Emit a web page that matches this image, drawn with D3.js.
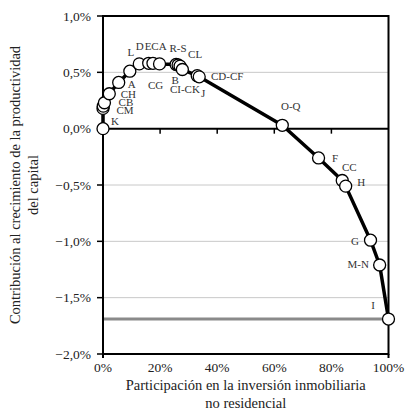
<!DOCTYPE html>
<html><head><meta charset="utf-8">
<script src="https://cdn.jsdelivr.net/npm/d3@7"></script>
<style>body{margin:0;background:#fff}svg{display:block}text{font-family:"Liberation Serif","Times New Roman",serif}</style>
</head><body><svg id="c" width="407" height="415"></svg>
<script>
// ---- data ----
const sectors = ["K","CM","","CB","CH","A","L","D","E","CA","CG","R-S","CL","B","CI-CK","J","CD-CF","O-Q","F","CC","H","G","M-N","I"];
const shareNonRes = [0.0,0.0,0.1,0.5,2.2,5.5,9.4,12.7,16.0,17.5,19.8,25.6,26.3,27.0,27.8,33.0,33.7,62.8,75.5,83.8,85.0,93.7,96.9,100.0];
const contribution = [0.00,0.18,0.20,0.23,0.31,0.41,0.51,0.575,0.58,0.58,0.575,0.57,0.565,0.555,0.525,0.47,0.46,0.03,-0.26,-0.46,-0.51,-0.99,-1.21,-1.69];
const referenceLevel = -1.69;
const xTicks = [0,20,40,60,80,100];
const yTicks = [1.0,0.5,0.0,-0.5,-1.0,-1.5,-2.0];
const xTitle = ["Participación en la inversión inmobiliaria","no residencial"];
const yTitle = ["Contribución al crecimiento de la productividad","del capital"];

// ---- label placement (layout only) ----
const labelOffset = {
  "K":[12,-4],"CM":[22,5.5],"CB":[21.5,3],"CH":[19,4],"A":[13,6],"L":[1,-15],
  "D":[0.5,-14],"E":[-0.5,-13],"CA":[6,-13.5],"CG":[-4,25],"R-S":[2,-12],"CL":[17,-7],
  "B":[-5,17.5],"CI-CK":[2.5,23],"J":[6,21.5],"CD-CF":[28,3],"O-Q":[8.5,-15.5],
  "F":[16.5,4],"CC":[7,-9],"H":[15.5,0],"G":[-15.5,4.5],"M-N":[-21.5,3.5],"I":[-15.5,-10.5]
};

const pts = sectors.map((s,i)=>({s, x:shareNonRes[i], y:contribution[i]}));
const svg = d3.select("#c");
const x = d3.scaleLinear().domain([0,100]).range([103,388.5]);
const y = d3.scaleLinear().domain([-2,1]).range([354,16]);
const fmt = v => (v<0?"\u2212":"") + Math.abs(v).toFixed(1).replace(".",",") + "%";

// gridlines
svg.append("g").selectAll("line").data(yTicks.filter(v=>v!==0 && v!==1 && v!==-2)).join("line")
  .attr("x1",x(0)).attr("x2",x(100)).attr("y1",d=>y(d)).attr("y2",d=>y(d))
  .attr("stroke","#c8c8c8").attr("stroke-width",1);
// reference line
svg.append("line").attr("x1",x(0)).attr("x2",x(100)).attr("y1",y(referenceLevel)).attr("y2",y(referenceLevel))
  .attr("stroke","#8a8a8a").attr("stroke-width",3);
// zero line
svg.append("line").attr("x1",x(0)).attr("x2",x(100)).attr("y1",y(0)).attr("y2",y(0))
  .attr("stroke","#000").attr("stroke-width",2);
// zero-line ticks
svg.append("g").selectAll("line").data(xTicks.slice(1,-1)).join("line")
  .attr("x1",d=>x(d)).attr("x2",d=>x(d)).attr("y1",y(0)).attr("y2",y(0)+5)
  .attr("stroke","#000").attr("stroke-width",1.5);
// frame
svg.append("rect").attr("x",x(0)).attr("y",y(1)).attr("width",x(100)-x(0)).attr("height",y(-2)-y(1))
  .attr("fill","none").attr("stroke","#000").attr("stroke-width",2);
svg.append("line").attr("x1",x(0)).attr("x2",x(0)).attr("y1",y(-2)).attr("y2",y(-2)+4).attr("stroke","#000").attr("stroke-width",2);
svg.append("line").attr("x1",x(100)).attr("x2",x(100)).attr("y1",y(-2)).attr("y2",y(-2)+4).attr("stroke","#000").attr("stroke-width",2);

// y axis ticks & labels
const yA = svg.append("g");
yA.selectAll("line").data(yTicks).join("line")
  .attr("x1",x(0)-6).attr("x2",x(0)).attr("y1",d=>y(d)).attr("y2",d=>y(d)).attr("stroke","#000").attr("stroke-width",1.5);
yA.selectAll("text").data(yTicks).join("text")
  .attr("x",x(0)-12).attr("y",d=>y(d)+4.5).attr("text-anchor","end").attr("font-size",13.5).attr("fill","#222").text(fmt);
// x labels
svg.append("g").selectAll("text").data(xTicks).join("text")
  .attr("x",d=>x(d)).attr("y",372).attr("text-anchor","middle").attr("font-size",13.5).attr("fill","#222").text(d=>d+"%");

// data line
svg.append("path").datum(pts).attr("fill","none").attr("stroke","#000").attr("stroke-width",3.5)
  .attr("stroke-linejoin","round").attr("d",d3.line().x(d=>x(d.x)).y(d=>y(d.y)));
// points
svg.append("g").selectAll("circle").data(pts).join("circle")
  .attr("cx",d=>x(d.x)).attr("cy",d=>y(d.y)).attr("r",6)
  .attr("fill","#fff").attr("stroke","#000").attr("stroke-width",1.3);
// labels
svg.append("g").selectAll("text").data(pts.filter(d=>d.s)).join("text")
  .attr("x",d=>x(d.x)+labelOffset[d.s][0]).attr("y",d=>y(d.y)+labelOffset[d.s][1])
  .attr("text-anchor","middle").attr("font-size",11).attr("fill","#333").text(d=>d.s);

// titles
svg.append("g").selectAll("text").data(xTitle).join("text")
  .attr("x",(x(0)+x(100))/2).attr("y",(d,i)=>390+i*18).attr("text-anchor","middle")
  .attr("font-size",14.5).attr("fill","#222").text(d=>d);
svg.append("g").selectAll("text").data(yTitle).join("text")
  .attr("transform",(d,i)=>`translate(${20+i*18},${(y(1)+y(-2))/2}) rotate(-90)`)
  .attr("text-anchor","middle").attr("font-size",14.5).attr("fill","#222").text(d=>d);
</script></body></html>
